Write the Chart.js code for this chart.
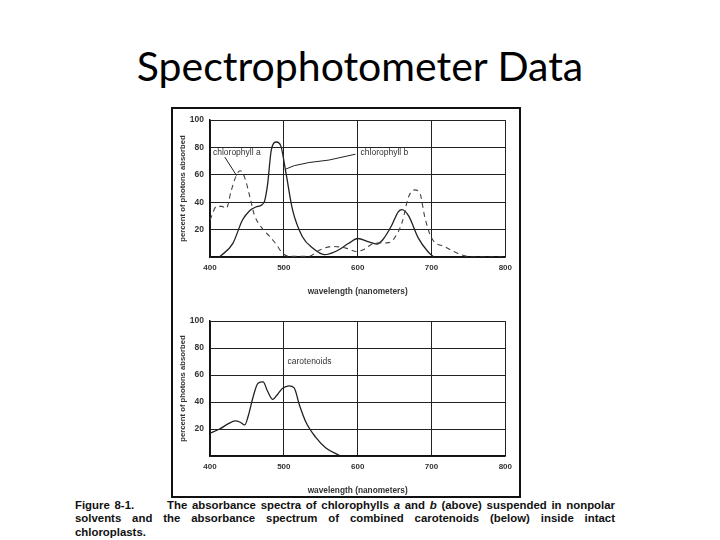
<!DOCTYPE html>
<html>
<head>
<meta charset="utf-8">
<script src="https://cdn.jsdelivr.net/npm/chart.js@4.4.1/dist/chart.umd.min.js"></script>
<style>
  html, body { margin: 0; padding: 0; background: #fff; }
  body { width: 720px; height: 540px; position: relative; overflow: hidden; }
  #title {
    position: absolute; left: 0; width: 720px; top: 41px;
    text-align: center; font-family: Lato, "Open Sans", sans-serif;
    font-size: 41px; color: #000;
  }
  #figure {
    position: absolute; left: 171px; top: 107px; width: 346px; height: 387px;
    border: 2px solid #111;
  }
  .chartBox { position: absolute; left: 172px; width: 346px; }
  #caption {
    position: absolute; left: 75px; top: 499px; width: 540px;
    font-family: "Liberation Sans", Arial, sans-serif; font-weight: bold;
    font-size: 11.4px; line-height: 13.3px; color: #111;
  }
  #caption .j { text-align: justify; text-align-last: justify; }
</style>
</head>
<body>
<div id="title">Spectrophotometer Data</div>
<div id="figure"></div>
<div class="chartBox" style="top:109px;height:188px"><canvas id="topChart" width="346" height="188"></canvas></div>
<div class="chartBox" style="top:310px;height:186px"><canvas id="bottomChart" width="346" height="186"></canvas></div>
<div id="caption">
  <div class="j">Figure 8-1.&nbsp;&nbsp;&nbsp;&nbsp;&nbsp;&nbsp; The absorbance spectra of chlorophylls <i>a</i> and <i>b</i> (above) suspended in nonpolar</div>
  <div class="j">solvents and the absorbance spectrum of combined carotenoids (below) inside intact</div>
  <div>chloroplasts.</div>
</div>
<script>
// chlorophyll a (dashed)
const chlA_nm  = [400, 409, 416, 422, 429, 436, 441, 447, 454, 460, 472, 481, 490, 498, 507, 534, 548, 566, 584, 599, 610, 622, 642, 650, 660, 669, 677, 684, 691, 700, 718, 736, 755, 800];
const chlA_val = [27, 37, 37, 35.5, 49, 60, 63, 58, 44, 31, 20, 15, 9, 3, 0.5, 0.5, 5, 7.7, 6.5, 4, 6, 10, 10.5, 14, 25, 44, 49, 47, 29, 14, 7.5, 2.6, 0, 0];

// chlorophyll b (solid)
const chlB_nm  = [413, 431, 444, 454, 462, 470, 474, 478, 483, 490, 496, 503, 512, 525, 539, 555, 570, 588, 600, 615, 626, 634, 646, 655, 660, 669, 682, 695, 703];
const chlB_val = [0, 10, 27, 34, 36.5, 38, 41, 53, 78, 84, 81, 61, 34, 15, 6.5, 1.7, 4, 10, 13.5, 11, 9.5, 12.6, 23, 33, 34.6, 30, 14, 4, 0];

// carotenoids
const car_nm  = [400, 413, 425, 434, 441, 447, 452, 458, 465, 472, 478, 485, 492, 498, 507, 514, 521, 530, 543, 557, 575];
const car_val = [17, 20, 24, 26, 25, 23, 30, 43, 54, 55, 48, 42, 46, 50, 52, 50.5, 38, 25, 14, 6, 0.5];

// axis ticks
const xTicks = [400, 500, 600, 700, 800];
const yTicks = [0, 20, 40, 60, 80, 100];

// label pointer for chlorophyll b
const ptrB_nm  = [503, 514, 534, 561, 597];
const ptrB_val = [64.3, 66.7, 69, 70.8, 75.1];

const toXY = (xs, ys) => xs.map((x, i) => ({ x: x, y: ys[i] }));

const labelPlugin = {
    id: 'labels',
    afterDatasetsDraw(chart, args, opts) {
        const { ctx, scales: { x, y } } = chart;
        ctx.save();
        ctx.fillStyle = '#333';
        ctx.strokeStyle = '#222';
        ctx.lineWidth = 1;
        ctx.font = '8.5px "Liberation Sans", Arial, sans-serif';
        ctx.textBaseline = 'middle';
        (opts.texts || []).forEach(t => {
            ctx.fillText(t.text, x.getPixelForValue(t.x), y.getPixelForValue(t.y));
        });
        (opts.pointers || []).forEach(p => {
            ctx.beginPath();
            p.xs.forEach((v, i) => {
                const px = x.getPixelForValue(v), py = y.getPixelForValue(p.ys[i]);
                if (i === 0) ctx.moveTo(px, py); else ctx.lineTo(px, py);
            });
            ctx.stroke();
        });
        ctx.restore();
    }
};

function makeOptions(labels) {
    return {
        responsive: false,
        animation: false,
        layout: { padding: { top: 10, right: 10, left: 0, bottom: 0 } },
        plugins: { legend: { display: false }, tooltip: { enabled: false }, labels: labels },
        scales: {
            x: {
                type: 'linear', min: 400, max: 800,
                afterBuildTicks: s => { s.ticks = xTicks.map(v => ({ value: v })); },
                afterFit: s => { s.height = 40; },
                grid: { color: '#222', lineWidth: 1, drawTicks: false },
                border: { color: '#111', width: 1.5 },
                ticks: { padding: 6, color: '#333', font: { family: '"Liberation Sans", Arial', size: 8, weight: 'bold' } },
                title: { display: true, text: 'wavelength (nanometers)', color: '#333', padding: { top: 8, bottom: 0 },
                         font: { family: '"Liberation Sans", Arial', size: 8.3, weight: 'bold' } }
            },
            y: {
                min: 0, max: 100,
                afterBuildTicks: s => { s.ticks = yTicks.map(v => ({ value: v })); },
                afterFit: s => { s.width = 38; },
                grid: { color: '#222', lineWidth: 1, drawTicks: false },
                border: { color: '#111', width: 1.5 },
                ticks: { padding: 6, color: '#333', callback: v => v === 0 ? '' : v,
                         font: { family: '"Liberation Sans", Arial', size: 8.5, weight: 'bold' } },
                title: { display: true, text: 'percent of photons absorbed', color: '#333', padding: { top: 6, bottom: 0 },
                         font: { family: '"Liberation Sans", Arial', size: 7.7, weight: 'bold' } }
            }
        }
    };
}

const lineStyle = { borderColor: '#222', borderWidth: 1.3, pointRadius: 0, fill: false, cubicInterpolationMode: 'monotone' };

new Chart(document.getElementById('topChart'), {
    type: 'line',
    data: {
        datasets: [
            Object.assign({ label: 'chlorophyll a', data: toXY(chlA_nm, chlA_val), borderDash: [5, 4] }, lineStyle, { borderColor: '#444', borderWidth: 1.1 }),
            Object.assign({ label: 'chlorophyll b', data: toXY(chlB_nm, chlB_val) }, lineStyle)
        ]
    },
    options: makeOptions({
        texts: [{ text: 'chlorophyll a', x: 404, y: 76 }, { text: 'chlorophyll b', x: 604, y: 76 }],
        pointers: [{ xs: [420, 436], ys: [73, 59.5] }, { xs: ptrB_nm, ys: ptrB_val }]
    }),
    plugins: [labelPlugin]
});

new Chart(document.getElementById('bottomChart'), {
    type: 'line',
    data: {
        datasets: [
            Object.assign({ label: 'carotenoids', data: toXY(car_nm, car_val) }, lineStyle)
        ]
    },
    options: makeOptions({
        texts: [{ text: 'carotenoids', x: 505, y: 70 }],
        pointers: []
    }),
    plugins: [labelPlugin]
});
</script>
</body>
</html>
